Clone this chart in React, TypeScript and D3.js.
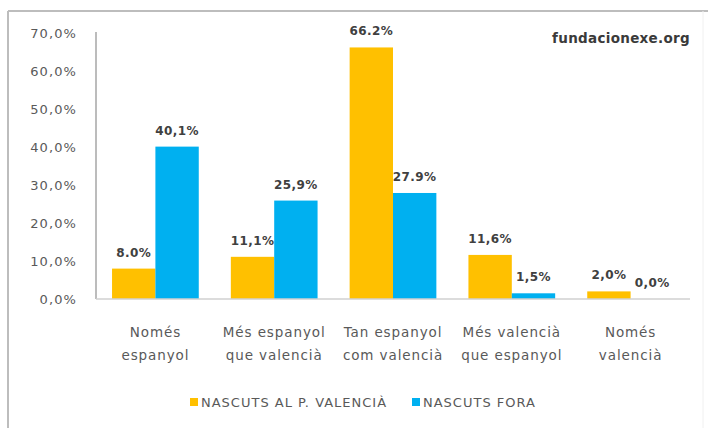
import React from "react";
import * as d3 from "d3";

const categories: string[][] = [
  ["Només", "espanyol"],
  ["Més espanyol", "que valencià"],
  ["Tan espanyol", "com valencià"],
  ["Més valencià", "que espanyol"],
  ["Només", "valencià"],
];
const seriesNames = ["NASCUTS AL P. VALENCIÀ", "NASCUTS FORA"];
const nascutsValencia = [8.0, 11.1, 66.2, 11.6, 2.0];
const nascutsFora = [40.1, 25.9, 27.9, 1.5, 0.0];
const labelsValencia = ["8.0%", "11,1%", "66.2%", "11,6%", "2,0%"];
const labelsFora = ["40,1%", "25,9%", "27.9%", "1,5%", "0,0%"];
const yTicks = [0, 10, 20, 30, 40, 50, 60, 70];
const tickLabels = ["0,0%", "10,0%", "20,0%", "30,0%", "40,0%", "50,0%", "60,0%", "70,0%"];
const colors = ["#FFC000", "#00B0F0"];
const watermark = "fundacionexe.org";

export default function App() {
  const W = 708, H = 428;
  const x0 = 96, x1 = 690, yBase = 299, yTop = 33;
  const x = d3.scaleBand<number>().domain(d3.range(categories.length)).range([x0, x1]).paddingInner(0.27).paddingOuter(0.135);
  const xs = d3.scaleBand<number>().domain([0, 1]).range([0, x.bandwidth()]);
  const y = d3.scaleLinear().domain([0, 70]).range([yBase, yTop]);
  const series = [nascutsValencia, nascutsFora];
  const labels = [labelsValencia, labelsFora];
  const font = "'DejaVu Sans', sans-serif";
  const textCol = "#595959";

  return (
    <svg width={W} height={H} style={{ position: "absolute", left: 0, top: 0, background: "#fff" }} fontFamily={font}>
      <rect x={0} y={0} width={W} height={H} fill="#fff" />
      {/* frame */}
      <line x1={8} y1={11} x2={W} y2={11} stroke="#bdbdbd" strokeWidth={2} />
      <line x1={8} y1={11} x2={8} y2={H} stroke="#bdbdbd" strokeWidth={2} />
      <line x1={703} y1={11} x2={703} y2={H} stroke="#f0f0f0" strokeWidth={1} />
      {/* watermark */}
      <text x={690} y={43} textAnchor="end" fontSize={13.5} letterSpacing={0.3} fontWeight="bold" fill="#3a3a3a">{watermark}</text>
      {/* y axis */}
      <line x1={x0} y1={yTop - 1} x2={x0} y2={yBase} stroke="#a6a6a6" strokeWidth={1.5} />
      {yTicks.map((t, i) => (
        <text key={t} x={77} y={y(t)} dy="0.35em" textAnchor="end" fontSize={13} letterSpacing={1.1} fill={textCol}>{tickLabels[i]}</text>
      ))}
      {/* bars */}
      {categories.map((_, ci) =>
        series.map((s, si) => {
          const bx = (x(ci) as number) + (xs(si) as number);
          const v = s[ci];
          return (
            <g key={`${ci}-${si}`}>
              <rect x={bx} y={y(v)} width={xs.bandwidth()} height={yBase - y(v)} fill={colors[si]} />
              <text x={bx + xs.bandwidth() / 2} y={y(v) - 12} textAnchor="middle" fontSize={12} letterSpacing={0.4} fontWeight="bold" fill="#404040">{labels[si][ci]}</text>
            </g>
          );
        })
      )}
      {/* baseline */}
      <line x1={x0} y1={yBase} x2={x1} y2={yBase} stroke="#d0d0d0" strokeWidth={1.5} />
      {/* category labels */}
      {categories.map((lines, ci) => (
        <text key={ci} textAnchor="middle" fontSize={13.5} letterSpacing={0.9} fill={textCol}>
          {lines.map((l, li) => (
            <tspan key={li} x={(x(ci) as number) + x.bandwidth() / 2} y={337 + li * 23}>{l}</tspan>
          ))}
        </text>
      ))}
      {/* legend */}
      {seriesNames.map((n, i) => {
        const lx = [190, 412][i];
        return (
          <g key={n}>
            <rect x={lx} y={398} width={8} height={8} fill={colors[i]} />
            <text x={lx + 11} y={406.5} fontSize={13} letterSpacing={1.0} fill={textCol}>{n}</text>
          </g>
        );
      })}
    </svg>
  );
}
